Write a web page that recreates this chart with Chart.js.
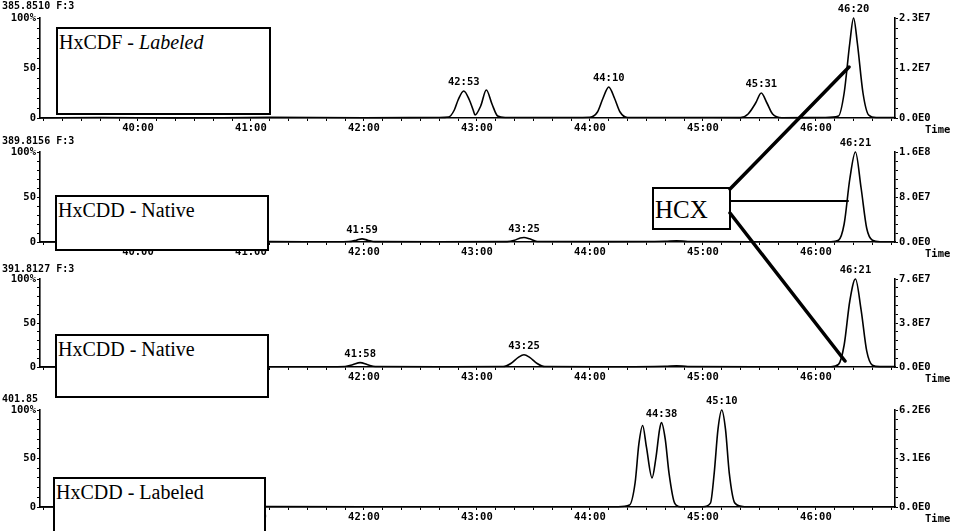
<!DOCTYPE html>
<html>
<head>
<meta charset="utf-8">
<script src="https://cdn.jsdelivr.net/npm/chart.js@4/dist/chart.umd.min.js"></script>
<style>
  html, body { margin: 0; padding: 0; background: #fff; }
  #page { position: relative; width: 957px; height: 531px; overflow: hidden; background: #fff; }
  .panel { position: absolute; left: 0; width: 957px; }
  .box {
    position: absolute; background: #fff; border: 2px solid #000; box-sizing: border-box;
    font-family: 'Liberation Serif', serif; font-size: 20px; line-height: 1;
    padding: 3px 0 0 1px; color: #000; white-space: nowrap;
  }
  #hcx { font-size: 25px; padding: 8px 0 0 1px; }
  svg { position: absolute; left: 0; top: 0; }
</style>
</head>
<body>
<div id="page">
  <div class="panel" style="top:0;height:135px"><canvas id="c1"></canvas></div>
  <div class="panel" style="top:135px;height:127px"><canvas id="c2"></canvas></div>
  <div class="panel" style="top:262px;height:128px"><canvas id="c3"></canvas></div>
  <div class="panel" style="top:390px;height:141px"><canvas id="c4"></canvas></div>

  <div class="box" style="left:56px;top:27px;width:215px;height:88px">HxCDF - <i>Labeled</i></div>
  <div class="box" style="left:55px;top:195px;width:214px;height:56px">HxCDD - Native</div>
  <div class="box" style="left:55px;top:334px;width:214px;height:64px">HxCDD - Native</div>
  <div class="box" style="left:53px;top:477px;width:213px;height:70px">HxCDD - Labeled</div>
  <div class="box" id="hcx" style="left:652px;top:187px;width:79px;height:43px">HCX</div>

  <svg width="957" height="531">
    <g stroke="#000" stroke-linecap="round">
      <line x1="730" y1="189" x2="849" y2="67" stroke-width="3.5"/>
      <line x1="730" y1="201" x2="848" y2="201" stroke-width="2"/>
      <line x1="730" y1="213" x2="845" y2="361" stroke-width="3.5"/>
    </g>
  </svg>
</div>

<script>
// ── Zeitachse (Sekunden) ──────────────────────────────────────────────────
const X_MIN = 2348;   // 39:08
const X_MAX = 2802;   // 46:42

// ── Spur 1: 385.8510 ───────────────────────────────────────────────────────
const p1Time  = [2348, 2380, 2420, 2470, 2520, 2560, 2565, 2568, 2570, 2573, 2576, 2578, 2579, 2582, 2585, 2588, 2591, 2595,
                 2620, 2640, 2644, 2647, 2650, 2653, 2656, 2660, 2690, 2720, 2724, 2728, 2731, 2734, 2737, 2742,
                 2765, 2772, 2775, 2778, 2780, 2782, 2785, 2788, 2792, 2802];
const p1Value = [0, 0.5, 0, 0.6, 0.3, 0.5, 1, 8, 18, 27, 18, 8, 3, 12, 28, 14, 2, 0.5,
                 0.5, 0.8, 6, 20, 31, 20, 6, 0.5, 0.5, 0.4, 4, 15, 25, 15, 4, 0.3,
                 0.5, 2, 25, 75, 100, 75, 25, 3, 0.5, 0.5];
const p1PeakTimes  = [2573, 2650, 2731, 2780];
const p1PeakLabels = ['42:53', '44:10', '45:31', '46:20'];
const p1RightTicks = ['0.0E0', '1.2E7', '2.3E7'];

// ── Spur 2: 389.8156 ───────────────────────────────────────────────────────
const p2Time  = [2348, 2380, 2420, 2470, 2505, 2512, 2516, 2519, 2522, 2526, 2560, 2596, 2600, 2603, 2605, 2608, 2612,
                 2650, 2680, 2686, 2692, 2740, 2768, 2772, 2775, 2778, 2781, 2784, 2787, 2790, 2794, 2802];
const p2Value = [0, 0.3, 0.2, 0.4, 0.3, 0.5, 2, 3.5, 2, 0.4, 0.3, 0.4, 2, 4.5, 5, 3.5, 0.5,
                 0.4, 0.8, 1.3, 0.6, 0.3, 0.3, 2, 20, 70, 100, 60, 15, 2, 0.3, 0.3];
const p2PeakTimes  = [2519, 2605, 2781];
const p2PeakLabels = ['41:59', '43:25', '46:21'];
const p2RightTicks = ['0.0E0', '8.0E7', '1.6E8'];

// ── Spur 3: 391.8127 ───────────────────────────────────────────────────────
const p3Time  = [2348, 2400, 2450, 2500, 2510, 2514, 2518, 2522, 2526, 2560, 2594, 2598, 2602, 2605, 2608, 2612, 2616,
                 2650, 2680, 2686, 2692, 2740, 2768, 2772, 2775, 2778, 2781, 2784, 2787, 2790, 2794, 2802];
const p3Value = [0, 0.3, 0.2, 0.3, 0.6, 2.5, 5, 2.5, 0.5, 0.3, 0.5, 4, 11, 14, 11, 4, 0.5,
                 0.3, 0.8, 1.5, 0.6, 0.3, 0.3, 3, 25, 75, 100, 65, 18, 2, 0.4, 0.4];
const p3PeakTimes  = [2518, 2605, 2781];
const p3PeakLabels = ['41:58', '43:25', '46:21'];
const p3RightTicks = ['0.0E0', '3.8E7', '7.6E7'];

// ── Spur 4: 401.85.. ───────────────────────────────────────────────────────
const p4Time  = [2348, 2400, 2440, 2470, 2520, 2600, 2655, 2661, 2664, 2666, 2668, 2670, 2673, 2675, 2677, 2678, 2680,
                 2682, 2685, 2688, 2700, 2704, 2706, 2708, 2710, 2712, 2714, 2717, 2722, 2802];
const p4Value = [0, 0.3, 0.8, 0.4, 0.2, 0.2, 0.3, 2, 25, 65, 84, 62, 30, 50, 80, 87, 70,
                 35, 4, 0.3, 0.3, 4, 35, 80, 100, 80, 35, 4, 0.3, 0.3];
const p4PeakTimes  = [2678, 2710];
const p4PeakLabels = ['44:38', '45:10'];
const p4RightTicks = ['0.0E0', '3.1E6', '6.2E6'];

// ── Darstellung ────────────────────────────────────────────────────────────

const MONO = { family: 'DejaVu Sans Mono', size: 10.5, weight: 'bold' };

const decorations = {
    id: 'decorations',
    afterDraw(chart, args, opts) {
        const { ctx, chartArea, scales } = chart;
        ctx.save();
        ctx.fillStyle = '#000';
        ctx.font = 'bold 10px "DejaVu Sans Mono"';
        ctx.textAlign = 'left';
        ctx.textBaseline = 'alphabetic';
        ctx.fillText(opts.header, 2, opts.headerY);
        ctx.font = 'bold 10.5px "DejaVu Sans Mono"';
        ctx.fillText('Time', chartArea.right + 30, scales.x.top + 15);

        const points = chart.data.datasets[0].data;
        ctx.textAlign = 'center';
        ctx.textBaseline = 'bottom';
        opts.peakTimes.forEach((t, i) => {
            const p = points.find(pt => pt.x === t);
            const x = scales.x.getPixelForValue(t);
            const y = scales.y.getPixelForValue(p ? p.y : 0) - 3;
            ctx.fillText(opts.peakLabels[i], x, y);
        });
        ctx.restore();
    },
};

function makePanel(id, times, values, cfg) {
    const data = times.map((t, i) => ({ x: t, y: values[i] }));
    const percentTicks = [0, 10, 20, 30, 40, 50, 60, 70, 80, 90, 100];

    const yGrid   = { drawOnChartArea: false, tickLength: 3, color: '#000', lineWidth: 1 };
    const yBorder = { color: '#000', width: 1.6 };

    return new Chart(document.getElementById(id), {
        type: 'line',
        data: {
            datasets: [{
                data,
                borderColor: '#000',
                borderWidth: 1.6,
                pointRadius: 0,
                cubicInterpolationMode: 'monotone',
                fill: false,
                clip: false,
            }],
        },
        plugins: [decorations],
        options: {
            responsive: true,
            maintainAspectRatio: false,
            animation: false,
            layout: { padding: { top: cfg.padTop, bottom: cfg.padBottom, left: 0, right: 0 } },
            plugins: {
                legend: { display: false },
                tooltip: { enabled: false },
                decorations: {
                    header: cfg.header,
                    headerY: cfg.headerY,
                    peakTimes: cfg.peakTimes,
                    peakLabels: cfg.peakLabels,
                },
            },
            scales: {
                x: {
                    type: 'linear',
                    min: X_MIN,
                    max: X_MAX,
                    afterFit(axis) { axis.height = 17; },
                    afterBuildTicks(axis) {
                        const ticks = [];
                        for (let v = Math.ceil(X_MIN / 10) * 10; v <= X_MAX; v += 10) ticks.push({ value: v });
                        axis.ticks = ticks;
                    },
                    ticks: {
                        autoSkip: false,
                        maxRotation: 0,
                        padding: 1,
                        color: '#000',
                        font: MONO,
                        callback: v => (v % 60 === 0 ? `${v / 60}:00` : ''),
                    },
                    grid: { drawOnChartArea: false, tickLength: 3, color: '#000', lineWidth: 1 },
                    border: yBorder,
                },
                y: {
                    position: 'left',
                    min: 0,
                    max: 100,
                    afterFit(axis) { axis.width = 40; },
                    afterBuildTicks(axis) { axis.ticks = percentTicks.map(v => ({ value: v })); },
                    ticks: {
                        autoSkip: false,
                        padding: 1,
                        color: '#000',
                        font: MONO,
                        callback: v => (v === 100 ? '100%' : v === 50 ? '50' : v === 0 ? '0' : ''),
                    },
                    grid: yGrid,
                    border: yBorder,
                },
                y2: {
                    position: 'right',
                    min: 0,
                    max: 100,
                    afterFit(axis) { axis.width = 62; },
                    afterBuildTicks(axis) { axis.ticks = percentTicks.map(v => ({ value: v })); },
                    ticks: {
                        autoSkip: false,
                        padding: 1,
                        color: '#000',
                        font: MONO,
                        callback: v => (v === 0 ? cfg.rightTicks[0] : v === 50 ? cfg.rightTicks[1] : v === 100 ? cfg.rightTicks[2] : ''),
                    },
                    grid: yGrid,
                    border: yBorder,
                },
            },
        },
    });
}

makePanel('c1', p1Time, p1Value, {
    header: '385.8510 F:3', headerY: 9, padTop: 18, padBottom: 0,
    peakTimes: p1PeakTimes, peakLabels: p1PeakLabels, rightTicks: p1RightTicks,
});
makePanel('c2', p2Time, p2Value, {
    header: '389.8156 F:3', headerY: 9, padTop: 17, padBottom: 3,
    peakTimes: p2PeakTimes, peakLabels: p2PeakLabels, rightTicks: p2RightTicks,
});
makePanel('c3', p3Time, p3Value, {
    header: '391.8127 F:3', headerY: 10, padTop: 17, padBottom: 6,
    peakTimes: p3PeakTimes, peakLabels: p3PeakLabels, rightTicks: p3RightTicks,
});
makePanel('c4', p4Time, p4Value, {
    header: '401.85', headerY: 12, padTop: 20, padBottom: 7,
    peakTimes: p4PeakTimes, peakLabels: p4PeakLabels, rightTicks: p4RightTicks,
});
</script>
</body>
</html>
